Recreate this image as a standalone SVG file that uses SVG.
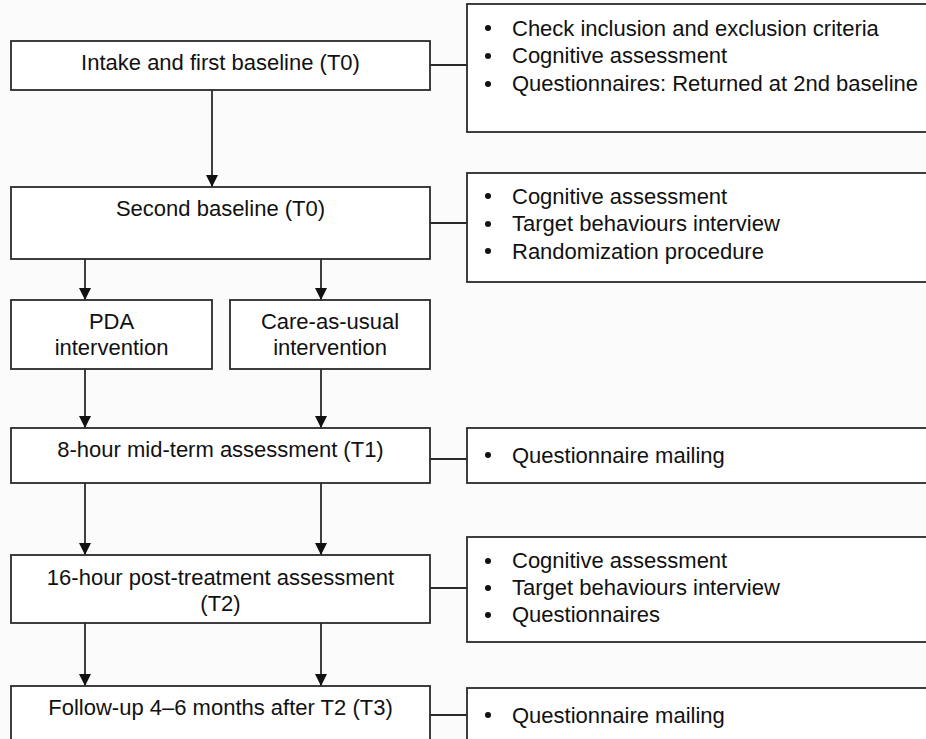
<svg xmlns="http://www.w3.org/2000/svg" width="926" height="739" viewBox="0 0 926 739">
<defs>
<style>
.box{fill:#ffffff;stroke:#2a2a2a;stroke-width:1.8}
.t{font-family:"Liberation Sans",Arial,sans-serif;font-size:22px;fill:#111}
.c{text-anchor:middle}
.ln{stroke:#2a2a2a;stroke-width:1.8;fill:none}
.b{fill:#111}
</style>
<marker id="ah" viewBox="0 0 12 12" refX="12" refY="6" markerWidth="12" markerHeight="12" markerUnits="userSpaceOnUse" orient="auto">
<path d="M0,0 L12,6 L0,12 z" fill="#111"/>
</marker>
</defs>
<rect width="926" height="739" fill="#fbfbfb"/>
<g id="connectors">
<line class="ln" x1="212" y1="90" x2="212" y2="187" marker-end="url(#ah)"/>
<line class="ln" x1="85" y1="259" x2="85" y2="300" marker-end="url(#ah)"/>
<line class="ln" x1="321" y1="259" x2="321" y2="300" marker-end="url(#ah)"/>
<line class="ln" x1="85" y1="369" x2="85" y2="428" marker-end="url(#ah)"/>
<line class="ln" x1="321" y1="369" x2="321" y2="428" marker-end="url(#ah)"/>
<line class="ln" x1="85" y1="483" x2="85" y2="555" marker-end="url(#ah)"/>
<line class="ln" x1="321" y1="483" x2="321" y2="555" marker-end="url(#ah)"/>
<line class="ln" x1="85" y1="623" x2="85" y2="686" marker-end="url(#ah)"/>
<line class="ln" x1="321" y1="623" x2="321" y2="686" marker-end="url(#ah)"/>
<line class="ln" x1="430" y1="65" x2="467" y2="65"/>
<line class="ln" x1="430" y1="223" x2="467" y2="223"/>
<line class="ln" x1="430" y1="459" x2="467" y2="459"/>
<line class="ln" x1="430" y1="588" x2="467" y2="588"/>
<line class="ln" x1="430" y1="715" x2="467" y2="715"/>
</g>
<g id="intake">
<rect class="box" x="11" y="41" width="419" height="49"/>
<text class="t c" x="220.5" y="70">Intake and first baseline (T0)</text>
</g>
<g id="notes-intake">
<rect class="box" x="467" y="4" width="480" height="128"/>
<circle class="b" cx="488" cy="28" r="3"/><text class="t" x="512" y="36">Check inclusion and exclusion criteria</text>
<circle class="b" cx="488" cy="56" r="3"/><text class="t" x="512" y="63">Cognitive assessment</text>
<circle class="b" cx="488" cy="84" r="3"/><text class="t" x="512" y="91">Questionnaires: Returned at 2nd baseline</text>
</g>
<g id="second">
<rect class="box" x="11" y="187" width="419" height="72"/>
<text class="t c" x="220.5" y="216">Second baseline (T0)</text>
</g>
<g id="notes-second">
<rect class="box" x="467" y="173" width="480" height="109"/>
<circle class="b" cx="488" cy="196" r="3"/><text class="t" x="512" y="204">Cognitive assessment</text>
<circle class="b" cx="488" cy="224" r="3"/><text class="t" x="512" y="231">Target behaviours interview</text>
<circle class="b" cx="488" cy="251" r="3"/><text class="t" x="512" y="259">Randomization procedure</text>
</g>
<g id="pda">
<rect class="box" x="11" y="300" width="201" height="69"/>
<text class="t c" x="111.5" y="329">PDA</text>
<text class="t c" x="111.5" y="355">intervention</text>
</g>
<g id="cau">
<rect class="box" x="230" y="300" width="200" height="69"/>
<text class="t c" x="330" y="329">Care-as-usual</text>
<text class="t c" x="330" y="355">intervention</text>
</g>
<g id="t1">
<rect class="box" x="11" y="428" width="419" height="55"/>
<text class="t c" x="220.5" y="457">8-hour mid-term assessment (T1)</text>
</g>
<g id="notes-t1">
<rect class="box" x="467" y="428" width="480" height="55"/>
<circle class="b" cx="488" cy="455" r="3"/><text class="t" x="512" y="463">Questionnaire mailing</text>
</g>
<g id="t2">
<rect class="box" x="11" y="555" width="419" height="68"/>
<text class="t c" x="220.5" y="585">16-hour post-treatment assessment</text>
<text class="t c" x="220.5" y="611">(T2)</text>
</g>
<g id="notes-t2">
<rect class="box" x="467" y="537" width="480" height="105"/>
<circle class="b" cx="488" cy="561" r="3"/><text class="t" x="512" y="568">Cognitive assessment</text>
<circle class="b" cx="488" cy="588" r="3"/><text class="t" x="512" y="595">Target behaviours interview</text>
<circle class="b" cx="488" cy="615" r="3"/><text class="t" x="512" y="622">Questionnaires</text>
</g>
<g id="t3">
<rect class="box" x="11" y="686" width="419" height="80"/>
<text class="t c" x="220.5" y="715">Follow-up 4–6 months after T2 (T3)</text>
</g>
<g id="notes-t3">
<rect class="box" x="467" y="688" width="480" height="80"/>
<circle class="b" cx="488" cy="715" r="3"/><text class="t" x="512" y="723">Questionnaire mailing</text>
</g>
</svg>
